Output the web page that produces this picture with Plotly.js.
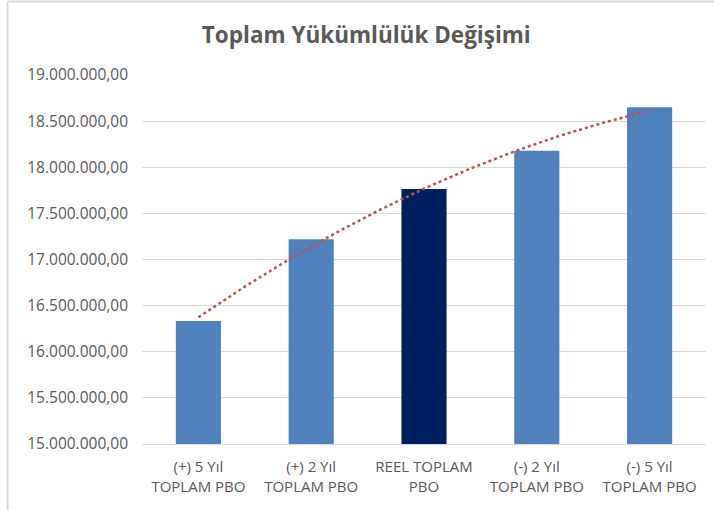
<!DOCTYPE html>
<html>
<head>
<meta charset="utf-8">
<script src="https://cdn.plot.ly/plotly-3.0.1.min.js"></script>
<style>html,body{margin:0;padding:0;background:#fff;}#chart{width:714px;height:510px;}</style>
</head>
<body>
<div id="chart"></div>
<script>
const categories = ["(+) 5 Yıl<br>TOPLAM PBO", "(+) 2 Yıl<br>TOPLAM PBO", "REEL TOPLAM<br>PBO", "(-) 2 Yıl<br>TOPLAM PBO", "(-) 5 Yıl<br>TOPLAM PBO"];
const values = [16334000, 17220000, 17765000, 18180000, 18650000];
const barColors = ["#4F81BD", "#4F81BD", "#002060", "#4F81BD", "#4F81BD"];
const yTicks = [15000000, 15500000, 16000000, 16500000, 17000000, 17500000, 18000000, 18500000, 19000000];

const idx = values.map((v, i) => i);

// 2nd-order polynomial trendline (least squares) from the bar values
function polyFit2(xs, ys) {
  let S = [0,0,0,0,0], T = [0,0,0];
  for (let i = 0; i < xs.length; i++) {
    let p = 1;
    for (let k = 0; k < 5; k++) { S[k] += p; if (k < 3) T[k] += p * ys[i]; p *= xs[i]; }
  }
  const A = [[S[0],S[1],S[2],T[0]],[S[1],S[2],S[3],T[1]],[S[2],S[3],S[4],T[2]]];
  for (let c = 0; c < 3; c++) {
    for (let r = c + 1; r < 3; r++) {
      const f = A[r][c] / A[c][c];
      for (let k = c; k < 4; k++) A[r][k] -= f * A[c][k];
    }
  }
  const co = [0,0,0];
  for (let r = 2; r >= 0; r--) {
    let s = A[r][3];
    for (let k = r + 1; k < 3; k++) s -= A[r][k] * co[k];
    co[r] = s / A[r][r];
  }
  return co;
}
const co = polyFit2(idx, values);
const tx = [], ty = [];
for (let i = 0; i <= 80; i++) {
  const x = i * (values.length - 1) / 80;
  tx.push(x); ty.push(co[0] + co[1] * x + co[2] * x * x);
}

const W = 714, H = 510, L = 142, R = 8, T = 75, B = 66;
const pw = W - L - R, ph = H - T - B;
const px = p => (p - L) / pw;
const py = p => (H - B - p) / ph;

const traces = [
  {type: "bar", x: idx, y: values, marker: {color: barColors}, hoverinfo: "y", showlegend: false},
  {type: "scatter", mode: "lines", x: tx, y: ty, line: {color: "#C0504D", width: 2.5, dash: "dot"}, showlegend: false, hoverinfo: "skip"}
];

const layout = {
  width: W, height: H,
  margin: {l: L, r: R, t: T, b: B},
  paper_bgcolor: "#ffffff", plot_bgcolor: "#ffffff",
  separators: ",.",
  font: {family: "Open Sans, Liberation Sans, sans-serif", color: "#595959", size: 15},
  title: {text: "<b>Toplam Yükümlülük Değişimi</b>", x: 0.513, xanchor: "center", y: 0.931, yanchor: "middle",
          font: {family: "Open Sans, sans-serif", size: 22.5, color: "#595959"}},
  bargap: 0.6,
  xaxis: {type: "linear", range: [-0.5, 4.5], tickvals: idx, ticktext: categories, showgrid: false, zeroline: false,
          showline: true, linecolor: "#D9D9D9", linewidth: 1, ticks: "", ticklabelstandoff: 9,
          tickfont: {size: 15, color: "#595959"}},
  yaxis: {range: [15000000, 19000000], tickvals: yTicks, tickformat: ",.2f", showgrid: true, gridcolor: "#D9D9D9", gridwidth: 1,
          zeroline: false, showline: false, ticks: "", ticklen: 0, ticklabelstandoff: 13,
          tickfont: {size: 15.5, color: "#595959"}, automargin: false},
  shapes: [
    {type: "line", xref: "paper", yref: "paper", x0: px(7.5), x1: px(714), y0: py(1.5), y1: py(1.5), line: {color: "#D9D9D9", width: 2}},
    {type: "line", xref: "paper", yref: "paper", x0: px(7.5), x1: px(7.5), y0: py(1.5), y1: py(510), line: {color: "#D9D9D9", width: 2}}
  ]
};

Plotly.newPlot("chart", traces, layout, {displayModeBar: false, staticPlot: true});
</script>
</body>
</html>
